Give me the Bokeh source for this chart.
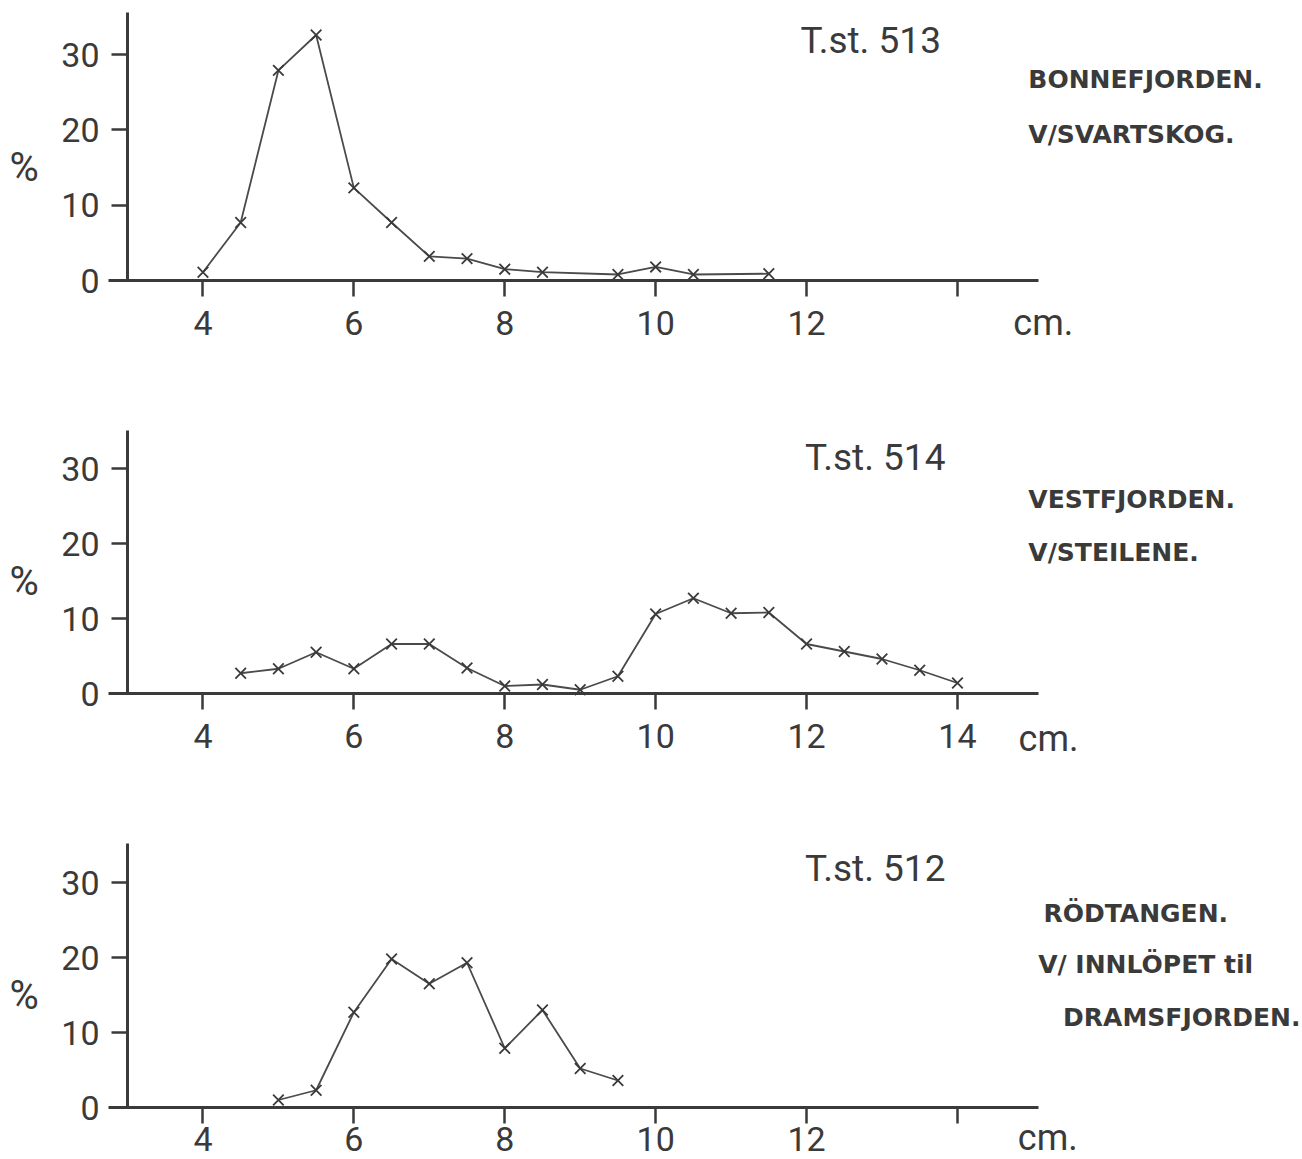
from bokeh.plotting import figure
from bokeh.layouts import column
from bokeh.models import Range1d, Label, FixedTicker
from bokeh.embed import file_html
from bokeh.resources import INLINE

# ---- data ----
len_513 = [4, 4.5, 5, 5.5, 6, 6.5, 7, 7.5, 8, 8.5, 9.5, 10, 10.5, 11.5]
pct_513 = [1.1, 7.7, 27.9, 32.6, 12.3, 7.7, 3.2, 2.9, 1.5, 1.1, 0.8, 1.8, 0.8, 0.9]

len_514 = [4.5, 5, 5.5, 6, 6.5, 7, 7.5, 8, 8.5, 9, 9.5, 10, 10.5, 11, 11.5, 12, 12.5, 13, 13.5, 14]
pct_514 = [2.7, 3.3, 5.5, 3.3, 6.6, 6.6, 3.4, 1.0, 1.2, 0.5, 2.3, 10.6, 12.7, 10.7, 10.8, 6.6, 5.6, 4.6, 3.1, 1.4]

len_512 = [5, 5.5, 6, 6.5, 7, 7.5, 8, 8.5, 9, 9.5]
pct_512 = [1.0, 2.3, 12.7, 19.8, 16.5, 19.3, 7.9, 13.0, 5.2, 3.6]

x_ticks = [4, 6, 8, 10, 12, 14]
y_ticks = [0, 10, 20, 30]

stations = ["T.st. 513", "T.st. 514", "T.st. 512"]
places = [
    ["BONNEFJORDEN.", "V/SVARTSKOG."],
    ["VESTFJORDEN.", "V/STEILENE."],
    ["RÖDTANGEN.", "V/ INNLÖPET til", "DRAMSFJORDEN."],
]

INK = "#3a3a3a"
NUM_FONT = "Roboto"
CAP_FONT = "DejaVu Sans"

PX_PER_CM = 75.45
X0 = 3 - 127 / PX_PER_CM          # data x at left edge of the page
X1 = X0 + 1302 / PX_PER_CM        # data x at right edge of the page


def panel(xs, ys, station, place_lines, height, zero_px, px_per_pct, y_top,
          label_14, place_pos, cm_pos, title_pos, x_standoff):
    y_end = zero_px / px_per_pct
    y_start = -(height - zero_px) / px_per_pct
    p = figure(width=1302, height=height, output_backend="svg",
               toolbar_location=None,
               x_range=Range1d(X0, X1), y_range=Range1d(y_start, y_end),
               min_border_left=0, min_border_right=0,
               min_border_top=0, min_border_bottom=0)
    p.outline_line_color = None
    p.grid.visible = False
    p.background_fill_color = "white"
    p.border_fill_color = "white"

    for ax in (p.xaxis[0], p.yaxis[0]):
        ax.axis_line_width = 3
        ax.axis_line_color = INK
        ax.major_tick_line_color = INK
        ax.major_tick_line_width = 2.5
        ax.major_tick_in = 0
        ax.major_tick_out = 16
        ax.minor_tick_line_color = None
        ax.major_label_text_font = NUM_FONT
        ax.major_label_text_font_size = "34px"
        ax.major_label_text_color = INK

    p.xaxis.fixed_location = 0
    p.xaxis.bounds = (2.75, 15.07)
    p.xaxis.ticker = FixedTicker(ticks=x_ticks)
    p.xaxis.major_label_standoff = x_standoff
    if not label_14:
        p.xaxis.major_label_overrides = {14: ""}
    p.yaxis.fixed_location = 3
    p.yaxis.bounds = (0, y_top)
    p.yaxis.ticker = FixedTicker(ticks=y_ticks)
    p.yaxis.major_label_standoff = 12

    p.line(xs, ys, line_color="#4a4a4a", line_width=1.8)
    p.scatter(xs, ys, marker="x", size=15, line_color=INK, line_width=1.8)

    p.add_layout(Label(x=X0 + 9 / PX_PER_CM, y=15, text="%",
                       text_font=NUM_FONT, text_font_size="40px",
                       text_color=INK, text_baseline="middle"))
    p.add_layout(Label(x=title_pos[0], y=title_pos[1], text=station,
                       text_font=NUM_FONT, text_font_size="37px",
                       text_color=INK, text_baseline="middle"))
    for (px, py), txt in zip(place_pos, place_lines):
        p.add_layout(Label(x=px, y=py, text=txt, text_font=CAP_FONT,
                           text_font_style="bold", text_font_size="25px",
                           text_color=INK, text_baseline="middle"))
    p.add_layout(Label(x=cm_pos[0], y=cm_pos[1], text="cm.",
                       text_font=NUM_FONT, text_font_size="36px",
                       text_color=INK, text_baseline="middle"))
    return p


p1 = panel(len_513, pct_513, stations[0], places[0], 413, 280, 7.53, 35.6,
           False, [(14.94, 26.7), (14.94, 19.4)], (14.74, -5.6), (11.92, 31.9), 14)
p2 = panel(len_514, pct_514, stations[1], places[1], 413, 280, 7.5, 35.07,
           True, [(14.94, 25.9), (14.94, 18.8)], (14.81, -6.0), (11.98, 31.5), 14)
p3 = panel(len_512, pct_512, stations[2], places[2], 333, 281, 7.5, 35.2,
           False, [(15.14, 25.9), (15.07, 19.1), (15.4, 12.0)], (14.8, -4.0), (11.98, 31.9), 3)

layout = column(p1, p2, p3, spacing=0)
open("out.html", "w").write(file_html(layout, INLINE))
